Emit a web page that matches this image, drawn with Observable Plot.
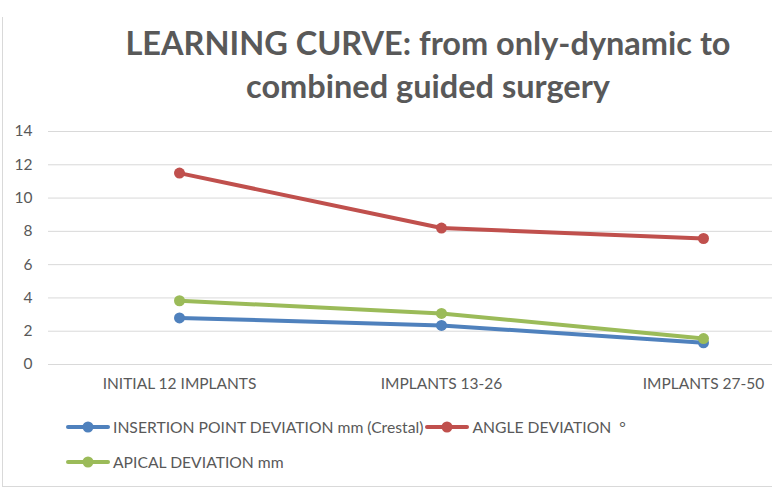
<!DOCTYPE html>
<html>
<head>
<meta charset="utf-8">
<script src="https://cdn.jsdelivr.net/npm/d3@7"></script>
<script src="https://cdn.jsdelivr.net/npm/@observablehq/plot@0.6"></script>
<style>
  html, body { margin: 0; padding: 0; background: #fff; }
  #wrap { position: relative; width: 772px; height: 501px; overflow: hidden; font-family: Lato, "Open Sans", sans-serif; }
  #frame { position: absolute; left: 2px; top: 17px; width: 800px; height: 470px; border-left: 1px solid #d9d9d9; border-bottom: 1px solid #d9d9d9; box-sizing: border-box; }
  #title { position: absolute; left: 0; width: 856px; top: 21px; text-align: center; font-weight: bold; font-size: 32.5px; line-height: 43px; color: #595959; }
  #chart { position: absolute; left: 0; top: 0; }
  #legend { position: absolute; left: 66px; top: 418px; width: 700px; color: #595959; font-size: 15.7px; }
  .row { display: flex; align-items: center; white-space: nowrap; height: 18px; margin-bottom: 17px; }
  .item { display: flex; align-items: center; white-space: nowrap; margin-right: 2px; }
  .item svg { margin-right: 3px; }
</style>
</head>
<body>
<div id="wrap">
  <div id="frame"></div>
  <div id="chart"></div>
  <div id="title">LEARNING CURVE: from only-dynamic to<br>combined guided surgery</div>
  <div id="legend"><div class="row" id="row0"></div><div class="row" id="row1"></div></div>
</div>
<script>
const categories = ["INITIAL 12 IMPLANTS", "IMPLANTS 13-26", "IMPLANTS 27-50"];
const seriesNames = ["INSERTION POINT DEVIATION mm (Crestal)", "ANGLE DEVIATION  °", "APICAL DEVIATION mm"];
const insertionPoint = [2.8, 2.35, 1.3];
const angle = [11.5, 8.2, 7.57];
const apical = [3.83, 3.07, 1.56];
const yTicks = [0, 2, 4, 6, 8, 10, 12, 14];
const colors = ["#4F81BD", "#C0504D", "#9BBB59"];

const seriesValues = [insertionPoint, angle, apical];
const data = [];
seriesValues.forEach((vals, s) => vals.forEach((v, i) => data.push({series: seriesNames[s], category: categories[i], value: v})));

const chart = Plot.plot({
  width: 772,
  height: 501,
  marginTop: 131,
  marginBottom: 137,
  marginLeft: 48,
  marginRight: -62,
  style: {fontFamily: "Lato, 'Open Sans', sans-serif", fontSize: "15px", color: "#595959", background: "transparent", overflow: "hidden"},
  x: {type: "point", domain: categories, padding: 0.5, label: null},
  y: {domain: [0, 14], ticks: yTicks, label: null},
  color: {domain: seriesNames, range: colors},
  marks: [
    Plot.ruleY(yTicks, {stroke: "#d9d9d9", strokeWidth: 1}),
    Plot.axisY({ticks: yTicks, tickSize: 0, tickPadding: 16, label: null, fill: "#595959", fontSize: 15.5}),
    Plot.axisX({tickSize: 0, tickPadding: 13, label: null, fill: "#595959", fontSize: 15.5}),
    Plot.line(data, {x: "category", y: "value", z: "series", stroke: "series", strokeWidth: 4, strokeLinecap: "round", strokeLinejoin: "round"}),
    Plot.dot(data, {x: "category", y: "value", fill: "series", r: 5.5, stroke: null})
  ]
});
document.getElementById("chart").appendChild(chart);

const rows = [0, 0, 1];
seriesNames.forEach((name, i) => {
  const div = document.createElement("div");
  div.className = "item";
  div.innerHTML = `<svg width="44" height="14"><line x1="2" x2="42" y1="7" y2="7" stroke="${colors[i]}" stroke-width="4" stroke-linecap="round"/><circle cx="22" cy="7" r="5.5" fill="${colors[i]}"/></svg><span>${name.replace("  ", "&nbsp;&nbsp;")}</span>`;
  document.getElementById("row" + rows[i]).appendChild(div);
});
</script>
</body>
</html>
